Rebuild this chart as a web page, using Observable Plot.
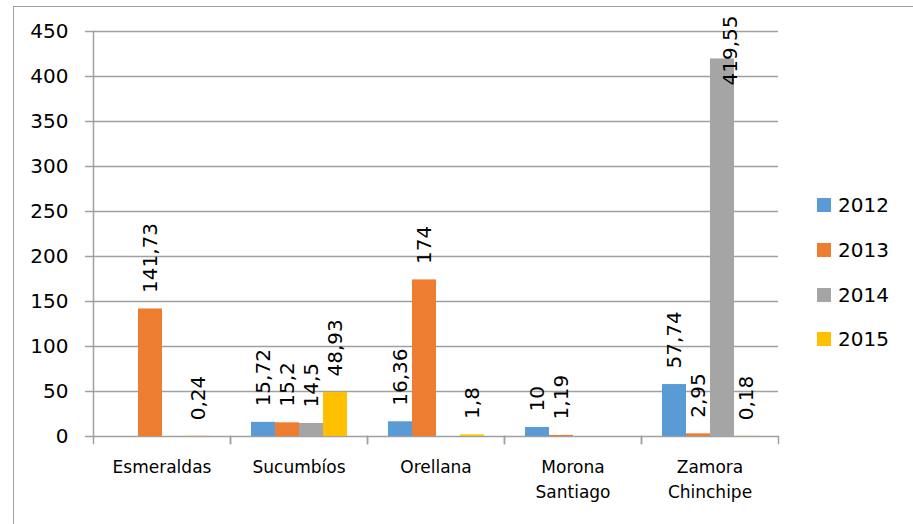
<!DOCTYPE html>
<html>
<head>
<meta charset="utf-8">
<script src="https://cdn.jsdelivr.net/npm/d3@7"></script>
<script src="https://cdn.jsdelivr.net/npm/@observablehq/plot@0.6"></script>
<style>
  html, body { margin: 0; padding: 0; background: #fff; }
  #wrap { position: relative; width: 913px; height: 524px; overflow: hidden; font-family: "DejaVu Sans", sans-serif; }
  #border { position: absolute; left: 13px; top: 6px; right: -2px; bottom: -2px; border-top: 1.5px solid #a0a0a0; border-left: 1.5px solid #a0a0a0; }
  #chart { position: absolute; left: 0; top: 0; }
  #legend { position: absolute; left: 817px; top: 183px; }
  .item { display: flex; align-items: center; height: 44.7px; font-size: 20px; color: #000; }
  .sw { width: 14px; height: 14px; margin-right: 7px; }
</style>
</head>
<body>
<div id="wrap">
  <div id="border"></div>
  <div id="chart"></div>
  <div id="legend"></div>
</div>
<script>
const categories = ["Esmeraldas", "Sucumbíos", "Orellana", "Morona\nSantiago", "Zamora\nChinchipe"];
const years = ["2012", "2013", "2014", "2015"];
const v2012 = [null, 15.72, 16.36, 10, 57.74];
const v2013 = [141.73, 15.2, 174, 1.19, 2.95];
const v2014 = [null, 14.5, null, null, 419.55];
const v2015 = [0.24, 48.93, 1.8, null, 0.18];
const colors = ["#5B9BD5", "#ED7D31", "#A5A5A5", "#FFC000"];
const yTicks = [0, 50, 100, 150, 200, 250, 300, 350, 400, 450];

const series = [v2012, v2013, v2014, v2015];
const rows = [];
categories.forEach((c, i) => {
  years.forEach((y, j) => {
    const v = series[j][i];
    if (v != null) rows.push({cat: c, year: y, value: v});
  });
});
const fmt = v => String(v).replace(".", ",");
const gridColor = "#a0a0a0";

const chart = Plot.plot({
  width: 913,
  height: 524,
  marginTop: 31,
  marginBottom: 88,
  marginLeft: 91,
  marginRight: 134,
  style: {fontFamily: "DejaVu Sans, sans-serif", color: "#000", background: "transparent", overflow: "visible"},
  fx: {domain: categories, paddingInner: 0, paddingOuter: 0, axis: null},
  x: {domain: years, paddingInner: 0, paddingOuter: 0.75, axis: null},
  y: {domain: [0, 450], axis: null},
  color: {domain: years, range: colors},
  marks: [
    Plot.ruleY(yTicks, {stroke: gridColor, strokeWidth: 1.5}),
    Plot.frame({anchor: "left", facetAnchor: "left", stroke: gridColor, strokeWidth: 1.5}),
    Plot.frame({anchor: "left", insetTop: 405, insetBottom: -7, stroke: gridColor, strokeWidth: 1.5}),
    Plot.frame({anchor: "right", insetTop: 405, insetBottom: -7, stroke: gridColor, strokeWidth: 1.5}),
    Plot.axisY({ticks: yTicks, tickSize: 8, tickPadding: 17, fontSize: 20, stroke: gridColor, strokeWidth: 1.5, fill: "#000", label: null, tickFormat: d => String(d)}),
    Plot.barY(rows, {fx: "cat", x: "year", y: "value", fill: "year"}),
    Plot.text(rows.filter(d => d.value < 400), {fx: "cat", x: "year", y: "value", text: d => fmt(d.value), rotate: -90, textAnchor: "start", dy: -16, fontSize: 20, fill: "#000"}),
    Plot.text(rows.filter(d => d.value >= 400), {fx: "cat", x: "year", frameAnchor: "top", text: d => fmt(d.value), rotate: -90, textAnchor: "end", dy: -16, fontSize: 20, fill: "#000"}),
    Plot.text(categories, {fx: d => d, frameAnchor: "bottom", text: d => d, lineAnchor: "top", lineHeight: 1.5, dy: 18, fontSize: 17, fill: "#000"})
  ]
});
document.getElementById("chart").appendChild(chart);

const legend = document.getElementById("legend");
years.forEach((y, i) => {
  const item = document.createElement("div");
  item.className = "item";
  const sw = document.createElement("span");
  sw.className = "sw";
  sw.style.background = colors[i];
  const t = document.createElement("span");
  t.textContent = y;
  item.appendChild(sw);
  item.appendChild(t);
  legend.appendChild(item);
});
</script>
</body>
</html>
